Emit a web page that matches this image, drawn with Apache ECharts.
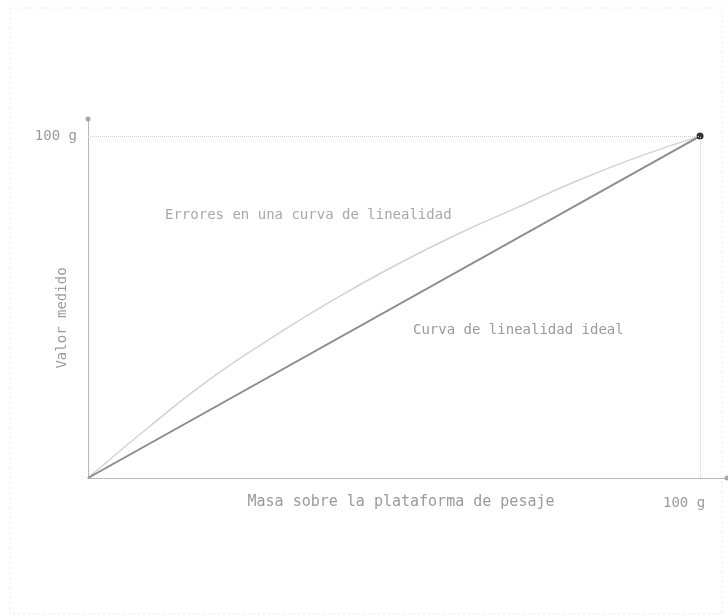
<!DOCTYPE html>
<html>
<head>
<meta charset="utf-8">
<script src="https://cdn.jsdelivr.net/npm/echarts@6/dist/echarts.min.js"></script>
<style>
  html, body { margin: 0; padding: 0; background: #fff; }
  #chart { width: 728px; height: 616px; }
</style>
</head>
<body>
<div id="chart"></div>
<script>
// masa sobre la plataforma (g) y valor medido
const massX = [0, 10, 20, 30, 40, 50, 60, 70, 80, 90, 100];
const errorY = [0, 15, 29, 41, 52, 62, 71, 79, 87, 94, 100];
const idealX = [0, 100];
const idealY = [0, 100];
const tickValues = [100];
const tickLabel = "100 g";

const font = "DejaVu Sans Mono";
const grey = "#9a9a9a";

const errorData = massX.map((x, i) => [x, errorY[i]]);
const idealData = idealX.map((x, i) => {
  const item = { value: [x, idealY[i]] };
  // punto final marcado en oscuro
  if (i === idealX.length - 1) {
    item.symbol = "circle";
    item.symbolSize = 7;
    item.itemStyle = { color: "#333" };
  }
  return item;
});

const axisLine = {
  lineStyle: { color: "#a8a8a8", type: "dotted", width: 1 },
  symbol: ["none", "circle"],
  symbolSize: [5, 5]
};

// textos sueltos (nombres de ejes y anotaciones)
function label(text, x, y, size, opts) {
  return Object.assign({
    type: "text",
    x: x,
    y: y,
    style: Object.assign({
      text: text,
      font: size + "px " + font,
      fill: grey,
      verticalAlign: "middle"
    }, (opts && opts.style) || {})
  }, opts && opts.rotation ? { rotation: opts.rotation } : {});
}

const chart = echarts.init(document.getElementById("chart"));
chart.setOption({
  animation: false,
  grid: { left: 88, right: 1, top: 119, bottom: 138 },
  xAxis: {
    type: "value",
    min: 0,
    max: 104.4,
    axisLine: axisLine,
    axisTick: { show: false },
    splitLine: { show: false },
    axisLabel: {
      customValues: tickValues,
      formatter: () => tickLabel,
      fontFamily: font,
      fontSize: 14,
      color: grey,
      margin: 18,
      padding: [0, 32, 0, 0]
    }
  },
  yAxis: {
    type: "value",
    min: 0,
    max: 105,
    axisLine: axisLine,
    axisTick: { show: false },
    splitLine: { show: false },
    axisLabel: {
      customValues: tickValues,
      formatter: () => tickLabel,
      fontFamily: font,
      fontSize: 14,
      color: grey,
      margin: 11,
      padding: [8, 0, 0, 0]
    }
  },
  graphic: [
    {
      type: "rect",
      silent: true,
      shape: { x: 10, y: 8, width: 712, height: 606 },
      style: { fill: "none", stroke: "#e8e8e8", lineWidth: 1, lineDash: [2, 3] }
    },
    label("Valor medido", 62, 318, 14, { rotation: Math.PI / 2, style: { align: "center" } }),
    label("Masa sobre la plataforma de pesaje", 401, 502, 15, { style: { align: "center" } }),
    label("Errores en una curva de linealidad", 165, 215, 14, { style: { fill: "#a8a8a8" } }),
    label("Curva de linealidad ideal", 413, 330, 14)
  ],
  series: [
    {
      name: "Errores",
      type: "line",
      smooth: true,
      showSymbol: false,
      data: errorData,
      lineStyle: { color: "#d2d2d2", width: 1.5 },
      z: 2
    },
    {
      name: "Ideal",
      type: "line",
      symbol: "none",
      data: idealData,
      lineStyle: { color: "#8c8c8c", width: 2 },
      z: 3,
      markLine: {
        silent: true,
        symbol: "none",
        label: { show: false },
        lineStyle: { color: "#cfcfcf", type: "dotted", width: 1 },
        data: [
          [{ coord: [0, 100] }, { coord: [100, 100] }],
          [{ coord: [100, 0] }, { coord: [100, 100] }]
        ]
      }
    }
  ]
});
</script>
</body>
</html>
